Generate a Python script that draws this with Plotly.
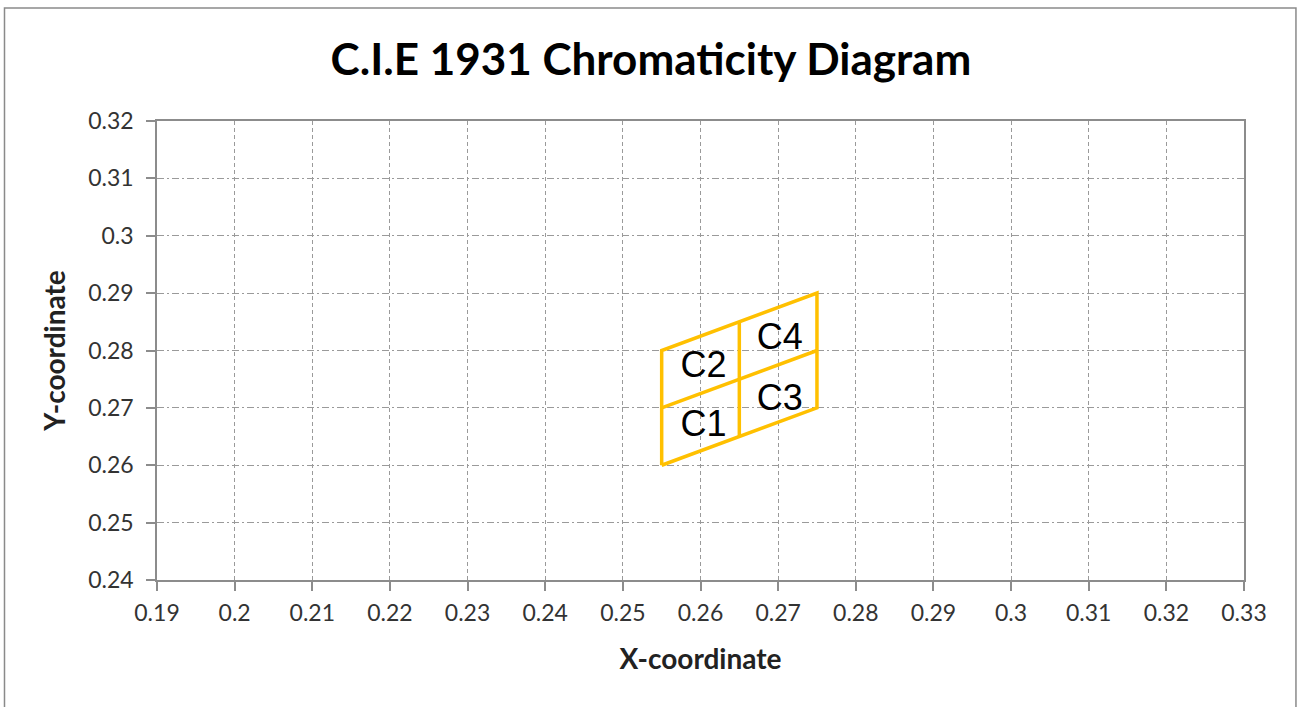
import plotly.graph_objects as go

# Parallelogram grid cells (x, y chromaticity coordinates)
outline_x = [0.255, 0.275, 0.275, 0.255, 0.255]
outline_y = [0.26, 0.27, 0.29, 0.28, 0.26]
mid_h_x = [0.255, 0.275]
mid_h_y = [0.27, 0.28]
mid_v_x = [0.265, 0.265]
mid_v_y = [0.265, 0.285]

labels = ["C1", "C2", "C3", "C4"]
label_x = [0.2604, 0.2604, 0.2702, 0.2702]
label_y = [0.2667, 0.2769, 0.2712, 0.2818]

x_ticks = [0.19, 0.2, 0.21, 0.22, 0.23, 0.24, 0.25, 0.26, 0.27, 0.28, 0.29, 0.3, 0.31, 0.32, 0.33]
y_ticks = [0.24, 0.25, 0.26, 0.27, 0.28, 0.29, 0.3, 0.31, 0.32]

GOLD = "#FFC000"
FONT = "Lato"

fig = go.Figure()
line_style = dict(color=GOLD, width=3.5)
fig.add_trace(go.Scatter(x=outline_x, y=outline_y, mode="lines", line=line_style, hoverinfo="skip"))
fig.add_trace(go.Scatter(x=mid_h_x, y=mid_h_y, mode="lines", line=line_style, hoverinfo="skip"))
fig.add_trace(go.Scatter(x=mid_v_x, y=mid_v_y, mode="lines", line=line_style, hoverinfo="skip"))
fig.add_trace(go.Scatter(x=label_x, y=label_y, mode="text", text=labels,
                         textfont=dict(family="Liberation Sans", size=36, color="black"),
                         hoverinfo="skip"))

# outer chart border
fig.add_shape(type="rect", xref="paper", yref="paper",
              x0=-0.1403, x1=1.0478, y0=-0.35, y1=1.2462,
              line=dict(color="#8a8a8a", width=1.5), layer="below")

axis_common = dict(
    showline=True, linecolor="#8c8c8c", linewidth=1.5, mirror=True,
    ticks="outside", ticklen=9, tickcolor="#8c8c8c", tickwidth=1.5,
    showgrid=True, gridcolor="#9a9a9a", gridwidth=1, zeroline=False,
    tickfont=dict(family=FONT, size=23, color="#333333"),
)

fig.update_xaxes(range=[0.19, 0.33], tickvals=x_ticks,
                 ticktext=[f"{v:g}" for v in x_ticks], griddash="4px,3px",
                 title=dict(text="<b>X-coordinate</b>", font=dict(family=FONT, size=28, color="#222222"), standoff=24),
                 ticklabelstandoff=3, **axis_common)
fig.update_yaxes(range=[0.24, 0.32], tickvals=y_ticks,
                 ticktext=[f"{v:g}" for v in y_ticks], griddash="7px,3px,2px,3px",
                 title=dict(text="<b>Y-coordinate</b>", font=dict(family=FONT, size=28, color="#222222"), standoff=14),
                 ticklabelstandoff=8, **axis_common)

fig.update_layout(
    width=1298, height=707,
    margin=dict(l=157, r=54, t=121, b=127),
    paper_bgcolor="white", plot_bgcolor="white",
    showlegend=False,
    title=dict(text="<b>C.I.E 1931 Chromaticity Diagram</b>", x=0.5015, xanchor="center",
               y=0.915, yanchor="middle",
               font=dict(family=FONT, size=44, color="black")),
)

fig.write_html("out.html", config={"displayModeBar": False},
               post_script="document.body.style.margin='0';")
